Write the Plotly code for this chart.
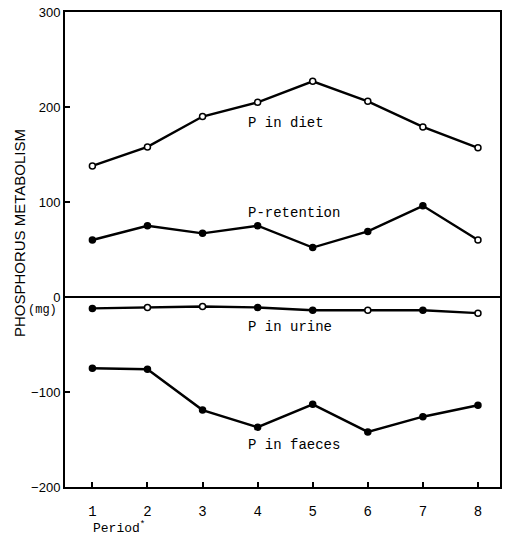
import plotly.graph_objects as go

periods = [1, 2, 3, 4, 5, 6, 7, 8]
tick_vals_y = [-200, -100, 0, 100, 200, 300]

p_diet = [138, 158, 190, 205, 227, 206, 179, 157]
p_retention = [60, 75, 67, 75, 52, 69, 96, 60]
p_urine = [-12, -11, -10, -11, -14, -14, -14, -17]
p_faeces = [-75, -76, -119, -137, -113, -142, -126, -114]

diet_fill = ["white"] * 8
retention_fill = ["black"] * 7 + ["white"]
urine_fill = ["black", "white", "white", "black", "black", "white", "black", "white"]
faeces_fill = ["black"] * 8

series = [
    ("P in diet", p_diet, diet_fill),
    ("P-retention", p_retention, retention_fill),
    ("P in urine", p_urine, urine_fill),
    ("P in faeces", p_faeces, faeces_fill),
]

# label positions (data coords)
label_x = 3.79
label_y = {"P in diet": 183, "P-retention": 88, "P in urine": -32, "P in faeces": -156}

MONO = "Liberation Mono"
SANS = "Liberation Sans"

fig = go.Figure()
for name, vals, fills in series:
    fig.add_trace(go.Scatter(
        x=periods, y=vals, mode="lines+markers", name=name,
        line=dict(color="black", width=2.4),
        marker=dict(symbol="circle", size=6, color=fills,
                    line=dict(color="black", width=1.5)),
        showlegend=False,
    ))
    fig.add_annotation(x=label_x, y=label_y[name], xref="x", yref="y",
                       text=name, showarrow=False, xanchor="left", yanchor="middle",
                       font=dict(family=MONO, size=14, color="black"))

fig.add_annotation(x=-0.103, y=0.535, xref="paper", yref="paper",
                   text="PHOSPHORUS METABOLISM", textangle=-90, showarrow=False,
                   xanchor="center", yanchor="middle",
                   font=dict(family=SANS, size=15, color="black"))
fig.add_annotation(x=-0.014, y=0.372, xref="paper", yref="paper",
                   text="(mg)", showarrow=False, xanchor="right", yanchor="middle",
                   font=dict(family=MONO, size=12, color="black"))
fig.add_annotation(x=0.06, y=-0.085, xref="paper", yref="paper",
                   text="Period<sup>*</sup>", showarrow=False, xanchor="left", yanchor="middle",
                   font=dict(family=MONO, size=13, color="black"))

fig.update_xaxes(range=[0.503, 8.40], tickvals=periods, ticktext=[str(p) for p in periods],
                 ticks="inside", ticklen=5, tickwidth=1.5, tickcolor="black",
                 showline=True, linecolor="black", linewidth=2, mirror=True,
                 showgrid=False, zeroline=False, ticklabelstandoff=10,
                 tickfont=dict(family=MONO, size=14, color="black"))
fig.update_yaxes(range=[-200, 300], tickvals=tick_vals_y,
                 ticks="inside", ticklen=5, tickwidth=1.5, tickcolor="black",
                 showline=True, linecolor="black", linewidth=2, mirror=True,
                 showgrid=False, zeroline=True, zerolinecolor="black", zerolinewidth=1.8,
                 tickfont=dict(family=SANS, size=13, color="black"))

fig.update_layout(width=506, height=538, margin=dict(l=65, r=4, t=12, b=51),
                  plot_bgcolor="white", paper_bgcolor="white")

fig.write_html("out.html")
